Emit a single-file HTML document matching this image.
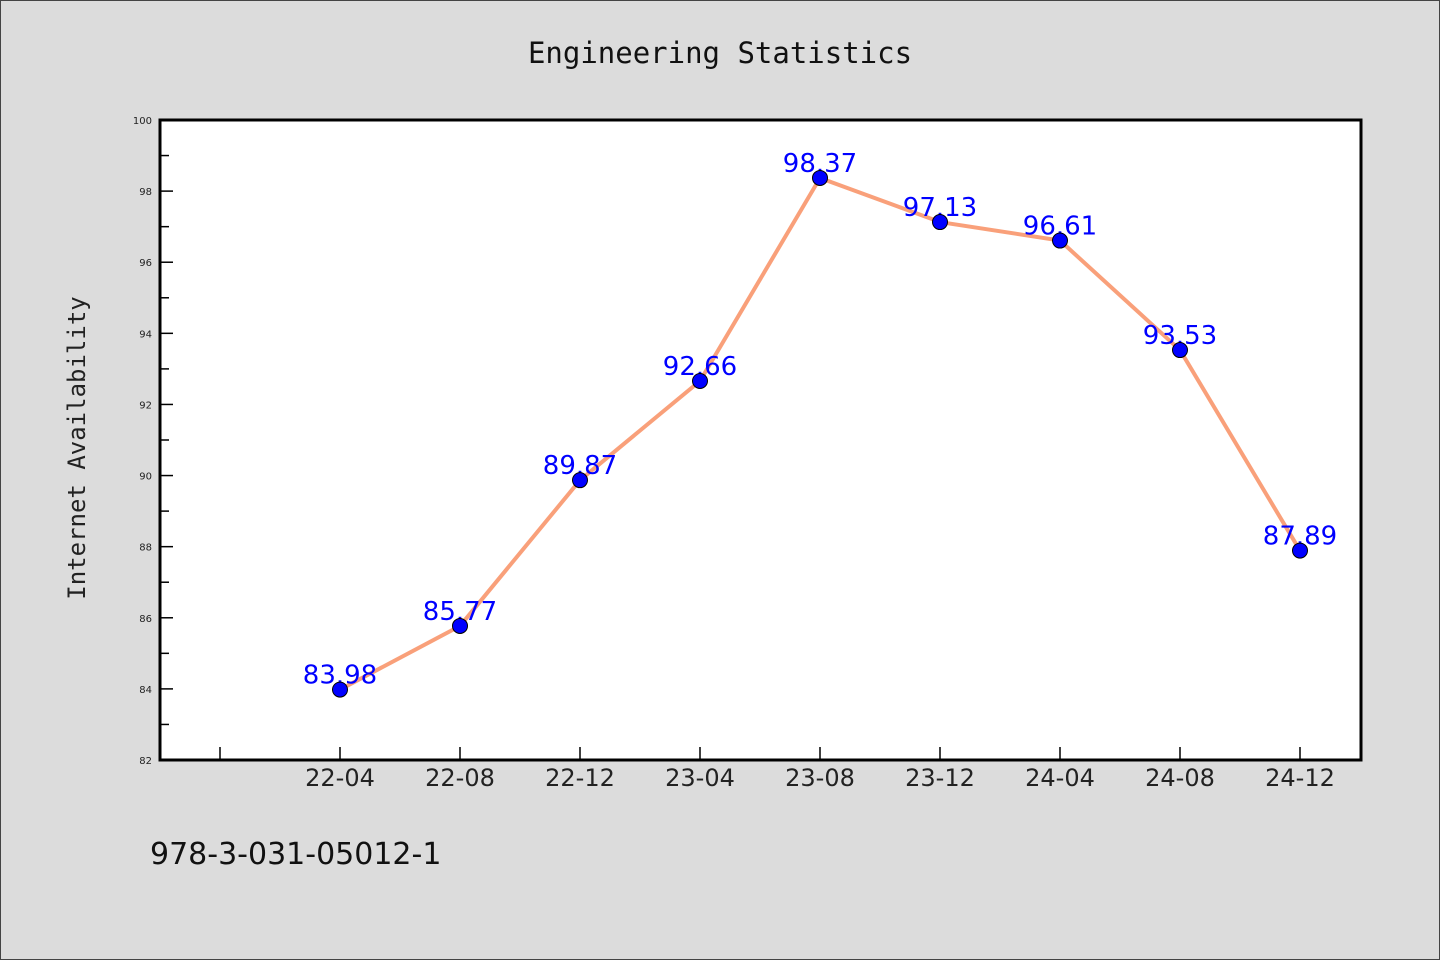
<!DOCTYPE html>
<html><head><meta charset="utf-8"><style>
html,body{margin:0;padding:0;background:#dcdcdc;}
svg{display:block;}
</style></head><body>
<svg width="1440" height="960" xmlns="http://www.w3.org/2000/svg">
<rect x="0.5" y="0.5" width="1439" height="959" fill="#dcdcdc" stroke="#444"/>
<text x="720" y="63" text-anchor="middle" font-family="DejaVu Sans Mono, Liberation Mono, monospace" font-size="29" fill="#111">Engineering Statistics</text>
<rect x="160" y="120" width="1201" height="640" fill="#fff"/>
<g id="axes"></g>
<g id="series"></g>
<rect x="160" y="120" width="1201" height="640" fill="none" stroke="#000" stroke-width="3"/>
<text transform="translate(85,448) rotate(-90)" text-anchor="middle" font-family="DejaVu Sans Mono, Liberation Mono, monospace" font-size="24" fill="#222">Internet Availability</text>
<text x="150" y="864" font-family="DejaVu Sans, Liberation Sans, sans-serif" font-size="30" fill="#111">978-3-031-05012-1</text>
</svg>
<script>
const categories = ["22-04","22-08","22-12","23-04","23-08","23-12","24-04","24-08","24-12"];
const values = [83.98,85.77,89.87,92.66,98.37,97.13,96.61,93.53,87.89];
const yTicks = [82,84,86,88,90,92,94,96,98,100];
const NS="http://www.w3.org/2000/svg";
const X0=160, Y0=120, W=1201, H=640, yMin=82, yMax=100;
function xs(i){return 340+120*i;}
function ys(v){return Y0+H-(v-yMin)/(yMax-yMin)*H;}
function mk(t,a,p){const e=document.createElementNS(NS,t);for(const k in a)e.setAttribute(k,a[k]);p.appendChild(e);return e;}
const ax=document.getElementById('axes'), se=document.getElementById('series');
yTicks.forEach((v,i)=>{
  const y=ys(v);
  const l=mk('line',{x1:X0,x2:X0+13,y1:y,y2:y,stroke:'#000','stroke-width':1.5},ax);
  
  
  const t=mk('text',{x:X0-8,y:y+4,'text-anchor':'end','font-family':'DejaVu Sans, sans-serif','font-size':10,fill:'#222'},ax);
  t.textContent=v;
  
  
  if(i<yTicks.length-1){
    const ym=ys(v+1);
    const m=mk('line',{x1:X0,x2:X0+9,y1:ym,y2:ym,stroke:'#000','stroke-width':1.5},ax);
    
    
  }
});
const tk0=mk('line',{x1:xs(-1),x2:xs(-1),y1:Y0+H,y2:Y0+H-13,stroke:'#000','stroke-width':1.5},ax);


categories.forEach((c,i)=>{
  const x=xs(i);
  const l=mk('line',{x1:x,x2:x,y1:Y0+H,y2:Y0+H-13,stroke:'#000','stroke-width':1.5},ax);
  
  
  const t=mk('text',{x:x,y:786,'text-anchor':'middle','font-family':'DejaVu Sans, sans-serif','font-size':24,fill:'#222'},ax);
  t.textContent=c;
  
  
});
const pts=values.map((v,i)=>xs(i)+','+ys(v)).join(' ');
const line=mk('polyline',{points:pts,fill:'none',stroke:'#f9a07a','stroke-width':4,'stroke-linejoin':'round'},se);


values.forEach((v,i)=>{
  const t=mk('text',{x:xs(i),y:ys(v)-6,'text-anchor':'middle','font-family':'DejaVu Sans, sans-serif','font-size':26,fill:'#0000ff'},se);
  t.textContent=v.toFixed(2);
  
  
});
values.forEach((v,i)=>{
  const c=mk('circle',{cx:xs(i),cy:ys(v),r:7.5,fill:'#0000ff',stroke:'#000','stroke-width':1},se);
  
  
});
</script>
</body></html>
